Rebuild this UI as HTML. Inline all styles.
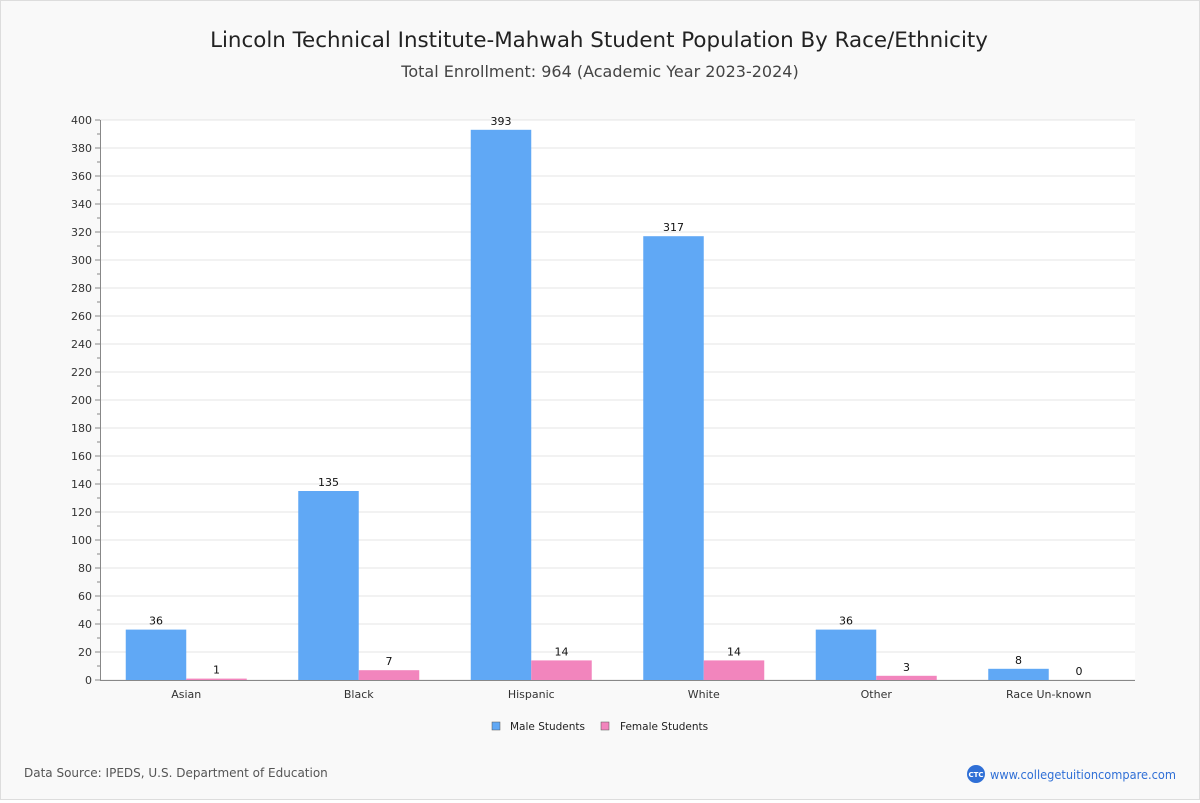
<!DOCTYPE html>
<html><head><meta charset="utf-8"><style>
body{margin:0;background:#fff;}
#wrap{position:relative;width:1198px;height:798px;background:#f9f9f9;border:1px solid #ddd;font-family:"DejaVu Sans","Liberation Sans",sans-serif;}
</style></head><body>
<div id="wrap">
<svg id="chart" width="1198" height="798" font-family="DejaVu Sans, Liberation Sans, sans-serif">
<text x="598" y="46" text-anchor="middle" font-size="21.4" fill="#222">Lincoln Technical Institute-Mahwah Student Population By Race/Ethnicity</text>
<text x="599" y="76" text-anchor="middle" font-size="16" fill="#444">Total Enrollment: 964 (Academic Year 2023-2024)</text>
<rect x="99" y="119" width="1035" height="560" fill="#fff"/>
<g id="grid"></g><g id="bars"></g><g id="axes"></g>
<g>
<rect x="491" y="721" width="8" height="8" fill="#60a8f5" stroke="#555" stroke-width="0.5"/>
<text x="509" y="729" font-size="10.5" fill="#222">Male Students</text>
<rect x="600" y="721" width="8" height="8" fill="#f285bd" stroke="#555" stroke-width="0.5"/>
<text x="619" y="729" font-size="10.5" fill="#222">Female Students</text>
</g>
<text x="23" y="776" font-size="12" fill="#555">Data Source: IPEDS, U.S. Department of Education</text>
<circle cx="975" cy="773" r="9" fill="#2f6fd6"/>
<text x="975" y="776" text-anchor="middle" font-size="7" fill="#fff" font-weight="bold">CTC</text>
<text x="989" y="778" font-size="12" fill="#2f6fd6" textLength="186" lengthAdjust="spacingAndGlyphs">www.collegetuitioncompare.com</text>
</svg></div>
<script>
const categories=["Asian","Black","Hispanic","White","Other","Race Un-known"];
const maleValues=[36,135,393,317,36,8];
const femaleValues=[1,7,14,14,3,0];
const yTicks=[0,20,40,60,80,100,120,140,160,180,200,220,240,260,280,300,320,340,360,380,400];
const NS="http://www.w3.org/2000/svg";
const X0=99,X1=1134,Y0=679,Y1=119,YMAX=400;
const y=v=>Y0-(Y0-Y1)*v/YMAX;
const band=(X1-X0)/categories.length;
const xc=i=>X0+band*(i+0.5);
function mk(t,a,p){const e=document.createElementNS(NS,t);for(const k in a)e.setAttribute(k,a[k]);p.appendChild(e);return e;}
const grid=document.getElementById('grid'),bars=document.getElementById('bars'),axes=document.getElementById('axes');
yTicks.forEach(t=>{
 const l=mk('line',{x1:X0,x2:X1,y1:y(t),y2:y(t),stroke:'#e4e4e4'},grid);
 
 
 const tk=mk('line',{x1:X0-5,x2:X0,y1:y(t),y2:y(t),stroke:'#888'},axes);
 
 
 const mt=mk('line',{x1:X0-3,x2:X0,y1:y(t+10),y2:y(t+10),stroke:'#888'},axes);
 if(t+10>YMAX)mt.remove();
 
 
 const tx=mk('text',{x:X0-8,y:y(t)+4,'text-anchor':'end','font-size':11,fill:'#333'},axes);
 tx.textContent=t;
 
 
});
const bw=60.5;
categories.forEach((c,i)=>{
 const cx=xc(i);
 const m=mk('rect',{x:cx-bw,y:y(maleValues[i]),width:bw,height:Y0-y(maleValues[i]),fill:'#60a8f5'},bars);
 
 
 const f=mk('rect',{x:cx,y:y(femaleValues[i]),width:bw,height:Y0-y(femaleValues[i]),fill:'#f285bd'},bars);
 
 
 const ml=mk('text',{x:cx-bw/2,y:y(maleValues[i])-5,'text-anchor':'middle','font-size':11,fill:'#111'},bars);
 ml.textContent=maleValues[i];
 
 
 const fl=mk('text',{x:cx+bw/2,y:y(femaleValues[i])-5,'text-anchor':'middle','font-size':11,fill:'#111'},bars);
 fl.textContent=femaleValues[i];
 
 
 const cl=mk('text',{x:cx,y:Y0+18,'text-anchor':'middle','font-size':11,fill:'#333'},axes);
 cl.textContent=c;
 
 
});
const xa=mk('line',{x1:X0,x2:X1,y1:Y0+0.5,y2:Y0+0.5,stroke:'#888'},axes);


const ya=mk('line',{x1:X0+0.5,x2:X0+0.5,y1:Y1,y2:Y0,stroke:'#888'},axes);


</script>
</body></html>
